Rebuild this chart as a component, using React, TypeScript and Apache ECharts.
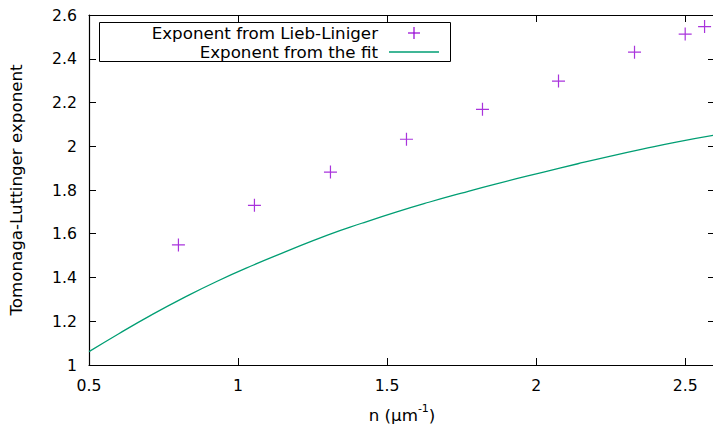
import React, { useEffect, useRef } from "react";
import * as echarts from "echarts";

const lliDensity = [0.8, 1.055, 1.31, 1.565, 1.82, 2.075, 2.33, 2.5, 2.565];
const lliExponent = [1.549, 1.73, 1.882, 2.032, 2.169, 2.298, 2.43, 2.513, 2.547];

const fitDensity = [0.5, 0.6, 0.71, 0.82, 0.93, 1.05, 1.16, 1.3, 1.415, 1.53, 1.64, 1.75, 1.86, 2.025, 2.14, 2.25, 2.36, 2.47, 2.6];
const fitExponent = [1.061, 1.143, 1.229, 1.309, 1.383, 1.456, 1.518, 1.594, 1.648, 1.699, 1.744, 1.786, 1.826, 1.882, 1.92, 1.955, 1.988, 2.019, 2.051];

const xTicks = [0.5, 1, 1.5, 2, 2.5];
const yTicks = [1, 1.2, 1.4, 1.6, 1.8, 2, 2.2, 2.4, 2.6];

const seriesNames = ["Exponent from Lieb-Liniger", "Exponent from the fit"];

const PURPLE = "#9400d3";
const GREEN = "#009e73";
const FONT = "DejaVu Sans";
const FS = 16.7;
const TFS = 15.7;

export default function App() {
  const ref = useRef<HTMLDivElement>(null);
  useEffect(() => {
    if (!ref.current) return;
    const chart = echarts.init(ref.current, null, { renderer: "svg" });
    const tickCommon = { show: true, inside: true, length: 7, lineStyle: { color: "#000", width: 1 } };
    const lineCommon = { show: true, onZero: false, lineStyle: { color: "#000", width: 1.2 } };
    chart.setOption({
      animation: false,
      backgroundColor: "#fff",
      textStyle: { fontFamily: FONT },
      grid: { left: 89, top: 15, bottom: 59, right: -2, containLabel: false, outerBoundsMode: "none" },
      xAxis: [
        {
          type: "value",
          min: 0.5,
          max: 2.6,
          interval: 0.5,
          axisLine: lineCommon,
          axisTick: tickCommon,
          splitLine: { show: false },
          axisLabel: {
            fontFamily: FONT,
            fontSize: TFS,
            color: "#000",
            margin: 12,
            showMaxLabel: false,
            formatter: (v: number) => (xTicks.includes(v) ? String(v) : ""),
          },
          name: "{a|n (μm}{b|-1}{a|)}",
          nameLocation: "middle",
          nameGap: 38,
          nameTextStyle: {
            rich: {
              a: { fontFamily: FONT, fontSize: FS, color: "#000", lineHeight: 20, verticalAlign: "bottom" },
              b: { fontFamily: FONT, fontSize: 11, color: "#000", lineHeight: 20, verticalAlign: "top", padding: [0, 0, 7, 0] },
            },
          },
        },
        {
          type: "value",
          position: "top",
          min: 0.5,
          max: 2.6,
          interval: 0.5,
          axisLine: lineCommon,
          axisTick: tickCommon,
          splitLine: { show: false },
          axisLabel: { show: false },
        },
      ],
      yAxis: [
        {
          type: "value",
          min: 1,
          max: 2.6,
          interval: 0.2,
          axisLine: lineCommon,
          axisTick: tickCommon,
          splitLine: { show: false },
          axisLabel: {
            fontFamily: FONT,
            fontSize: TFS,
            color: "#000",
            margin: 12,
            formatter: (v: number) => {
              const t = yTicks.find((y) => Math.abs(y - v) < 1e-6);
              return t === undefined ? "" : String(t);
            },
          },
          name: "Tomonaga-Luttinger exponent",
          nameLocation: "middle",
          nameGap: 65,
          nameTextStyle: { fontFamily: FONT, fontSize: FS, color: "#000" },
        },
        {
          type: "value",
          position: "right",
          min: 1,
          max: 2.6,
          interval: 0.2,
          axisLine: lineCommon,
          axisTick: tickCommon,
          splitLine: { show: false },
          axisLabel: { show: false },
        },
      ],
      series: [
        {
          name: seriesNames[0],
          type: "scatter",
          xAxisIndex: 0,
          yAxisIndex: 0,
          symbol: "path://M0,6H12M6,0V12",
          symbolSize: 13,
          itemStyle: { color: "none", borderColor: PURPLE, borderWidth: 1.2 },
          data: lliDensity.map((x, i) => [x, lliExponent[i]]),
        },
        {
          name: seriesNames[1],
          type: "line",
          xAxisIndex: 0,
          yAxisIndex: 0,
          smooth: 0.5,
          showSymbol: false,
          symbol: "none",
          lineStyle: { color: GREEN, width: 1.3 },
          data: fitDensity.map((x, i) => [x, fitExponent[i]]),
        },
      ],
      graphic: [
        {
          type: "rect",
          shape: { x: 99.5, y: 22.5, width: 351, height: 39 },
          style: { fill: "#fff", stroke: "#000", lineWidth: 1 },
          z: 100,
        },
        {
          type: "text",
          x: 378,
          y: 33,
          style: { text: seriesNames[0], fontFamily: FONT, fontSize: FS, fill: "#000", align: "right", verticalAlign: "middle" },
          z: 101,
        },
        {
          type: "text",
          x: 378,
          y: 52,
          style: { text: seriesNames[1], fontFamily: FONT, fontSize: FS, fill: "#000", align: "right", verticalAlign: "middle" },
          z: 101,
        },
        {
          type: "line",
          shape: { x1: 408, y1: 33, x2: 420, y2: 33 },
          style: { stroke: PURPLE, lineWidth: 1.2 },
          z: 101,
        },
        {
          type: "line",
          shape: { x1: 414, y1: 27, x2: 414, y2: 39 },
          style: { stroke: PURPLE, lineWidth: 1.2 },
          z: 101,
        },
        {
          type: "line",
          shape: { x1: 389, y1: 52, x2: 439, y2: 52 },
          style: { stroke: GREEN, lineWidth: 1.3 },
          z: 101,
        },
      ],
    });
    return () => chart.dispose();
  }, []);
  return (
    <div
      ref={ref}
      style={{ position: "absolute", left: 0, top: 0, width: 713, height: 424, background: "#fff" }}
    />
  );
}
